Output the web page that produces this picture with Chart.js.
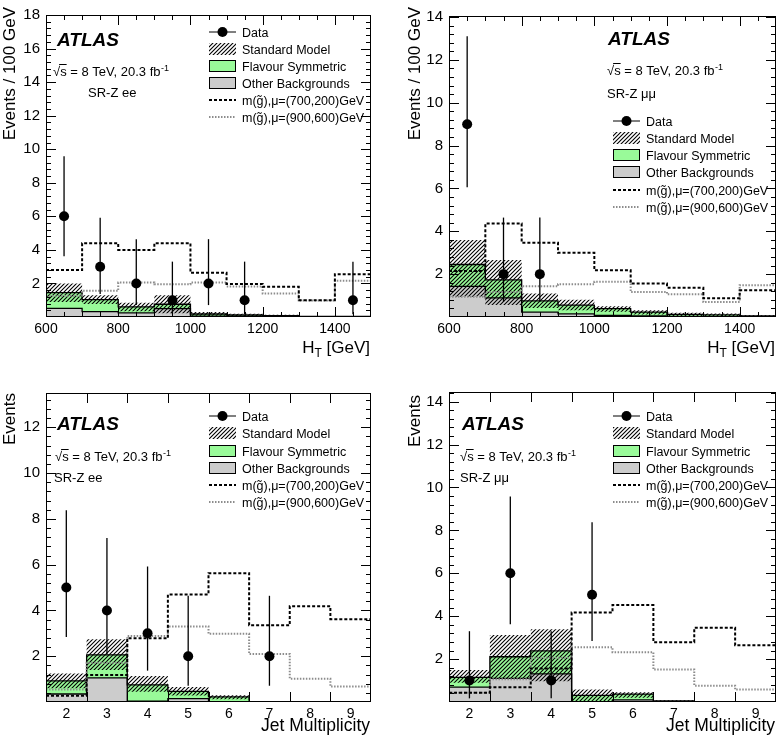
<!DOCTYPE html>
<html lang="en">
<head>
<meta charset="UTF-8">
<title>SR-Z ee / μμ : H_T and jet multiplicity</title>
<script src="https://cdn.jsdelivr.net/npm/chart.js"></script>
<style>
  body { margin: 0; background: #fff; }
  canvas { position: absolute; }
</style>
</head>
<body>
<canvas id="htEE" width="389" height="373" style="left:0;top:0"></canvas>
<canvas id="htMM" width="388" height="373" style="left:389px;top:0"></canvas>
<canvas id="njEE" width="389" height="373" style="left:0;top:372px"></canvas>
<canvas id="njMM" width="388" height="373" style="left:389px;top:372px"></canvas>

<script>
// binning and tick labels
const htEdges = [600, 700, 800, 900, 1000, 1100, 1200, 1300, 1400, 1500];
const htTickLabels = [600, 800, 1000, 1200, 1400];
const njEdges = [1.5, 2.5, 3.5, 4.5, 5.5, 6.5, 7.5, 8.5, 9.5];
const njTickLabels = [2, 3, 4, 5, 6, 7, 8, 9];
const yTicks18 = [2, 4, 6, 8, 10, 12, 14, 16, 18];
const yTicks14 = [2, 4, 6, 8, 10, 12, 14];
const yTicks12 = [2, 4, 6, 8, 10, 12];

const legendLabels = ['Data', 'Standard Model', 'Flavour Symmetric', 'Other Backgrounds',
  'm(g\u0303),\u03bc=(700,200)GeV', 'm(g\u0303),\u03bc=(900,600)GeV'];

// SR-Z ee, H_T
const eeHtData  = [6, 3, 2, 1, 2, 1, 0, 0, 1];
const eeHtLo    = [3.62, 1.37, 0.71, 0.17, 0.71, 0.17, 0, 0, 0.17];
const eeHtHi    = [9.58, 5.92, 4.64, 3.30, 4.64, 3.30, 0, 0, 3.30];
const eeHtOther = [0.52, 0.32, 0.25, 0.5, 0.05, 0.03, 0.02, 0.01, 0.01];
const eeHtSM    = [1.45, 1.04, 0.6, 0.76, 0.18, 0.12, 0.08, 0.03, 0.03];
const eeHtSMDn  = [0.9, 0.78, 0.35, 0.22, 0.08, 0.05, 0.03, 0.01, 0.01];
const eeHtSMUp  = [2.0, 1.3, 0.85, 1.3, 0.3, 0.2, 0.13, 0.05, 0.05];
const eeHtSig1  = [2.8, 4.4, 4.0, 4.4, 2.63, 1.97, 1.8, 1.0, 2.55];
const eeHtSig2  = [1.27, 1.56, 2.05, 1.95, 2.05, 1.82, 1.4, 0.98, 2.16];

// SR-Z mumu, H_T
const mmHtData  = [9, 2, 2, 0, 0, 0, 0, 0, 0];
const mmHtLo    = [6.06, 0.71, 0.71, 0, 0, 0, 0, 0, 0];
const mmHtHi    = [13.11, 4.64, 4.64, 0, 0, 0, 0, 0, 0];
const mmHtOther = [1.43, 0.89, 0.23, 0.15, 0.08, 0.05, 0.03, 0.02, 0.01];
const mmHtSM    = [2.45, 1.73, 0.75, 0.55, 0.39, 0.23, 0.12, 0.1, 0.05];
const mmHtSMDn  = [0.95, 0.56, 0.42, 0.32, 0.25, 0.12, 0.05, 0.03, 0.01];
const mmHtSMUp  = [3.6, 2.66, 1.1, 0.8, 0.5, 0.32, 0.2, 0.16, 0.08];
const mmHtSig1  = [2.15, 4.36, 3.46, 3.0, 2.18, 1.56, 1.37, 0.88, 1.25];
const mmHtSig2  = [0.95, 1.17, 1.43, 1.53, 1.64, 1.17, 1.06, 0.7, 1.48];

// SR-Z ee, jet multiplicity
const eeNjData  = [5, 4, 3, 2, 0, 2, 0, 0];
const eeNjLo    = [2.84, 2.09, 1.37, 0.71, 0, 0.71, 0, 0];
const eeNjHi    = [8.38, 7.16, 5.92, 4.64, 0, 4.64, 0, 0];
const eeNjOther = [0.35, 1.05, 0.04, 0.15, 0.02, 0, 0, 0];
const eeNjSM    = [0.92, 2.06, 0.75, 0.46, 0.22, 0.02, 0.01, 0.01];
const eeNjSMDn  = [0.6, 1.4, 0.45, 0.28, 0.12, 0, 0, 0];
const eeNjSMUp  = [1.25, 2.74, 1.14, 0.65, 0.3, 0.04, 0.02, 0.02];
const eeNjSig1  = [0.27, 1.18, 2.78, 4.7, 5.63, 3.35, 4.18, 3.62];
const eeNjSig2  = [0.55, 1.72, 2.88, 3.3, 2.98, 2.1, 1.02, 0.68];

// SR-Z mumu, jet multiplicity
const mmNjData  = [1, 6, 1, 5, 0, 0, 0, 0];
const mmNjLo    = [0.17, 3.62, 0.17, 2.84, 0, 0, 0, 0];
const mmNjHi    = [3.30, 9.58, 3.30, 8.38, 0, 0, 0, 0];
const mmNjOther = [0.69, 1.1, 1.31, 0.02, 0.1, 0.01, 0, 0];
const mmNjSM    = [1.15, 2.11, 2.38, 0.31, 0.37, 0.05, 0.01, 0.01];
const mmNjSMDn  = [0.9, 1.1, 0.97, 0.05, 0.2, 0.01, 0, 0];
const mmNjSMUp  = [1.49, 3.12, 3.39, 0.58, 0.45, 0.08, 0.02, 0.02];
const mmNjSig1  = [0.43, 0.69, 1.56, 4.17, 4.52, 2.79, 3.46, 2.65];
const mmNjSig2  = [0.43, 1.06, 2.06, 2.55, 2.32, 1.51, 0.76, 0.58];

const FONT = "'Liberation Sans', Arial, Helvetica, sans-serif";
const GREEN = 'rgb(153,250,153)';
const GREY = 'rgb(204,204,204)';
const SIG2 = '#8c8c8c';

// diagonal hatch for the SM uncertainty band
function makeHatch() {
  const c = document.createElement('canvas');
  c.width = 4; c.height = 4;
  const g = c.getContext('2d');
  g.strokeStyle = '#000';
  g.lineWidth = 1.1;
  g.beginPath();
  g.moveTo(0, 4); g.lineTo(4, 0);
  g.moveTo(-1, 1); g.lineTo(1, -1);
  g.moveTo(3, 5); g.lineTo(5, 3);
  g.stroke();
  return g.createPattern(c, 'repeat');
}
const HATCH = makeHatch();

// histogram contents -> points at the bin edges for a stepped line
function steps(edges, vals) {
  const pts = vals.map((v, i) => ({ x: edges[i], y: v }));
  pts.push({ x: edges[edges.length - 1], y: vals[vals.length - 1] });
  return pts;
}
function centres(edges, counts) {
  const pts = [];
  counts.forEach((n, i) => { if (n > 0) pts.push({ x: (edges[i] + edges[i + 1]) / 2, y: n }); });
  return pts;
}

function txt(ctx, s, x, y, size, style) {
  ctx.font = (style || '') + ' ' + size + 'px ' + FONT;
  ctx.fillText(s, x, y);
  return ctx.measureText(s).width;
}

function drawEnergy(ctx, x, y) {
  ctx.font = '13px ' + FONT;
  const wRoot = ctx.measureText('\u221a').width;
  const wS = ctx.measureText('s').width;
  const w = txt(ctx, '\u221as = 8 TeV, 20.3 fb', x, y, 13);
  ctx.beginPath();
  ctx.lineWidth = 1;
  ctx.moveTo(x + wRoot - 1, y - 11.5);
  ctx.lineTo(x + wRoot + wS, y - 11.5);
  ctx.stroke();
  txt(ctx, '-1', x + w + 0.5, y - 5, 9);
}

function drawXTitle(ctx, p, right) {
  if (p.jet) {
    ctx.textAlign = 'right';
    txt(ctx, 'Jet Multiplicity', right, p.xTitleBase, 17.5);
    ctx.textAlign = 'left';
    return;
  }
  ctx.font = '17px ' + FONT;
  const wH = ctx.measureText('H').width;
  const wG = ctx.measureText(' [GeV]').width;
  ctx.font = '12px ' + FONT;
  const wT = ctx.measureText('T').width;
  const x = right - wH - wT - wG;
  txt(ctx, 'H', x, p.xTitleBase, 17);
  txt(ctx, 'T', x + wH, p.xTitleBase + 4, 12);
  txt(ctx, ' [GeV]', x + wH + wT, p.xTitleBase, 17);
}

function drawLegend(ctx, L) {
  const r = L.rows, x0 = L.x, w = 27, xm = x0 + w / 2;
  ctx.save();
  ctx.strokeStyle = '#000';
  ctx.lineWidth = 1;
  ctx.beginPath(); ctx.moveTo(x0, r[0]); ctx.lineTo(x0 + w, r[0]); ctx.stroke();
  ctx.beginPath(); ctx.arc(xm, r[0], 5, 0, Math.PI * 2); ctx.fillStyle = '#000'; ctx.fill();
  ctx.fillStyle = HATCH; ctx.fillRect(x0, r[1] - 6, w, 12);
  ctx.fillStyle = GREEN; ctx.fillRect(x0, r[2] - 6, w, 12);
  ctx.strokeRect(x0 + 0.5, r[2] - 5.5, w - 1, 11);
  ctx.fillStyle = GREY; ctx.fillRect(x0, r[3] - 6, w, 12);
  ctx.strokeRect(x0 + 0.5, r[3] - 5.5, w - 1, 11);
  ctx.lineWidth = 2;
  ctx.setLineDash([3, 2]);
  ctx.beginPath(); ctx.moveTo(x0, r[4]); ctx.lineTo(x0 + w, r[4]); ctx.stroke();
  ctx.strokeStyle = SIG2;
  ctx.setLineDash([1.5, 1.5]);
  ctx.beginPath(); ctx.moveTo(x0, r[5]); ctx.lineTo(x0 + w, r[5]); ctx.stroke();
  ctx.restore();
  ctx.fillStyle = '#000';
  ctx.textAlign = 'left';
  legendLabels.forEach((s, i) => txt(ctx, s, L.tx, r[i] + 4.5, 12.5));
}

function drawFrame(chart, p) {
  const ctx = chart.ctx, a = chart.chartArea, xs = chart.scales.x, ys = chart.scales.y;
  ctx.save();
  ctx.strokeStyle = '#000';
  ctx.lineWidth = 1;
  ctx.strokeRect(a.left + 0.5, a.top + 0.5, a.right - a.left - 1, a.bottom - a.top - 1);
  ctx.beginPath();
  for (let k = 1; k * 0.4 <= p.yMax + 1e-6; k++) {
    const y = Math.round(ys.getPixelForValue(k * 0.4)) + 0.5;
    const len = k % 5 === 0 ? 10 : 5;
    ctx.moveTo(a.left, y); ctx.lineTo(a.left + len, y);
    ctx.moveTo(a.right, y); ctx.lineTo(a.right - len, y);
  }
  const marks = [];
  if (p.jet) {
    p.edges.slice(1, -1).forEach(v => marks.push([v, 10]));
  } else {
    for (let v = 650; v < 1500; v += 50) marks.push([v, (v - 600) % 200 === 0 ? 10 : 5]);
  }
  marks.forEach(([v, len]) => {
    const x = Math.round(xs.getPixelForValue(v)) + 0.5;
    ctx.moveTo(x, a.bottom); ctx.lineTo(x, a.bottom - len);
    ctx.moveTo(x, a.top); ctx.lineTo(x, a.top + len);
  });
  ctx.stroke();
  ctx.restore();
}

const panels = [
  { id: 'htEE', w: 389, h: 373, edges: htEdges, xTicks: htTickLabels, jet: false, yMax: 18, yTicks: yTicks18,
    counts: eeHtData, lo: eeHtLo, hi: eeHtHi, other: eeHtOther, sm: eeHtSM, smDn: eeHtSMDn, smUp: eeHtSMUp,
    sig1: eeHtSig1, sig2: eeHtSig2,
    area: { left: 46, top: 9, right: 371, bottom: 317 },
    yTitle: 'Events / 100 GeV', yTitlePos: [15, 7], xTitleBase: 353,
    atlas: [57, 46], energy: [53, 76], region: ['SR-Z ee', 88, 97],
    legend: { x: 209, tx: 242, rows: [32, 49, 66, 83, 100, 117] } },
  { id: 'htMM', w: 388, h: 373, edges: htEdges, xTicks: htTickLabels, jet: false, yMax: 14.05, yTicks: yTicks14,
    counts: mmHtData, lo: mmHtLo, hi: mmHtHi, other: mmHtOther, sm: mmHtSM, smDn: mmHtSMDn, smUp: mmHtSMUp,
    sig1: mmHtSig1, sig2: mmHtSig2,
    area: { left: 60, top: 16, right: 387, bottom: 317 },
    yTitle: 'Events / 100 GeV', yTitlePos: [31, 7], xTitleBase: 353,
    atlas: [219, 45], energy: [218, 75], region: ['SR-Z \u03bc\u03bc', 218, 98],
    legend: { x: 224, tx: 257, rows: [121, 138, 155, 172, 190, 207] } },
  { id: 'njEE', w: 389, h: 373, edges: njEdges, xTicks: njTickLabels, jet: true, yMax: 13.5, yTicks: yTicks12,
    counts: eeNjData, lo: eeNjLo, hi: eeNjHi, other: eeNjOther, sm: eeNjSM, smDn: eeNjSMDn, smUp: eeNjSMUp,
    sig1: eeNjSig1, sig2: eeNjSig2,
    area: { left: 46, top: 21, right: 371, bottom: 330 },
    yTitle: 'Events', yTitlePos: [15, 21], xTitleBase: 359,
    atlas: [57, 58], energy: [55, 89], region: ['SR-Z ee', 54, 110],
    legend: { x: 209, tx: 242, rows: [44, 61, 79, 96, 113, 130] } },
  { id: 'njMM', w: 388, h: 373, edges: njEdges, xTicks: njTickLabels, jet: true, yMax: 14.45, yTicks: yTicks14,
    counts: mmNjData, lo: mmNjLo, hi: mmNjHi, other: mmNjOther, sm: mmNjSM, smDn: mmNjSMDn, smUp: mmNjSMUp,
    sig1: mmNjSig1, sig2: mmNjSig2,
    area: { left: 60, top: 20, right: 387, bottom: 330 },
    yTitle: 'Events', yTitlePos: [31, 23], xTitleBase: 359,
    atlas: [73, 58], energy: [71, 89], region: ['SR-Z \u03bc\u03bc', 71, 110],
    legend: { x: 224, tx: 257, rows: [44, 61, 79, 96, 113, 130] } }
];

const Y_AXIS_W = 40, X_AXIS_H = 30;

function makePanel(p) {
  const stepLine = (vals, extra) => Object.assign({
    data: steps(p.edges, vals), stepped: true, pointRadius: 0,
    borderColor: 'rgba(0,0,0,0)', borderWidth: 0, fill: false
  }, extra);

  const datasets = [
    { label: 'Data', data: centres(p.edges, p.counts), showLine: false, pointRadius: 5,
      pointBackgroundColor: '#000', pointBorderWidth: 0, order: 0 },
    stepLine(p.sig1, { label: 'sig1', borderColor: '#000', borderWidth: 2, borderDash: [3, 2], order: 1 }),
    stepLine(p.sig2, { label: 'sig2', borderColor: SIG2, borderWidth: 2, borderDash: [1.5, 1.5], order: 2 }),
    stepLine(p.sm, { label: 'SM outline', borderColor: '#000', borderWidth: 1.3, order: 3 }),
    stepLine(p.other, { label: 'Other outline', borderColor: '#000', borderWidth: 1.3, order: 4 }),
    stepLine(p.smUp, { label: 'SM up', fill: 6, backgroundColor: HATCH, order: 5 }),
    stepLine(p.smDn, { label: 'SM down', order: 6 }),
    stepLine(p.sm, { label: 'Flavour Symmetric', fill: 8, backgroundColor: GREEN, order: 7 }),
    stepLine(p.other, { label: 'Other Backgrounds', fill: 'origin', backgroundColor: GREY, order: 8 })
  ];

  const deco = {
    id: 'deco',
    beforeDatasetDraw(chart, args) {
      if (args.index !== 0) return;
      const ctx = chart.ctx, xs = chart.scales.x, ys = chart.scales.y;
      ctx.save();
      ctx.strokeStyle = '#000';
      ctx.lineWidth = 1.3;
      p.counts.forEach((n, i) => {
        if (!n) return;
        const x = xs.getPixelForValue((p.edges[i] + p.edges[i + 1]) / 2);
        ctx.beginPath();
        ctx.moveTo(x, ys.getPixelForValue(p.lo[i]));
        ctx.lineTo(x, ys.getPixelForValue(Math.min(p.hi[i], p.yMax)));
        ctx.stroke();
      });
      ctx.restore();
    },
    afterDraw(chart) {
      const ctx = chart.ctx;
      drawFrame(chart, p);
      ctx.save();
      ctx.fillStyle = '#000';
      ctx.strokeStyle = '#000';
      ctx.textBaseline = 'alphabetic';
      ctx.textAlign = 'left';
      txt(ctx, 'ATLAS', p.atlas[0], p.atlas[1], 19, 'italic bold');
      drawEnergy(ctx, p.energy[0], p.energy[1]);
      txt(ctx, p.region[0], p.region[1], p.region[2], 13);
      drawLegend(ctx, p.legend);
      drawXTitle(ctx, p, chart.chartArea.right - 1);
      ctx.save();
      ctx.translate(p.yTitlePos[0], p.yTitlePos[1]);
      ctx.rotate(-Math.PI / 2);
      ctx.textAlign = 'right';
      txt(ctx, p.yTitle, 0, 0, 17);
      ctx.restore();
      ctx.restore();
    }
  };

  new Chart(document.getElementById(p.id), {
    type: 'line',
    data: { datasets },
    options: {
      responsive: false,
      animation: false,
      events: [],
      layout: {
        autoPadding: false,
        padding: {
          left: p.area.left - Y_AXIS_W,
          top: p.area.top,
          right: p.w - p.area.right,
          bottom: p.h - p.area.bottom - X_AXIS_H
        }
      },
      plugins: { legend: { display: false }, tooltip: { enabled: false } },
      scales: {
        x: {
          type: 'linear',
          min: p.edges[0],
          max: p.edges[p.edges.length - 1],
          grid: { display: false, drawTicks: false },
          border: { display: false },
          ticks: { color: '#000', font: { family: FONT, size: 14 }, padding: 4,
                   autoSkip: false, maxRotation: 0, callback: v => String(v) },
          afterBuildTicks: s => { s.ticks = p.xTicks.map(v => ({ value: v })); },
          afterFit: s => { s.height = X_AXIS_H; }
        },
        y: {
          type: 'linear',
          min: 0,
          max: p.yMax,
          grid: { display: false, drawTicks: false },
          border: { display: false },
          ticks: { color: '#000', font: { family: FONT, size: 15 }, padding: 6,
                   autoSkip: false, callback: v => String(v) },
          afterBuildTicks: s => { s.ticks = p.yTicks.map(v => ({ value: v })); },
          afterFit: s => { s.width = Y_AXIS_W; }
        }
      }
    },
    plugins: [deco]
  });
}

panels.forEach(makePanel);
</script>
</body>
</html>
